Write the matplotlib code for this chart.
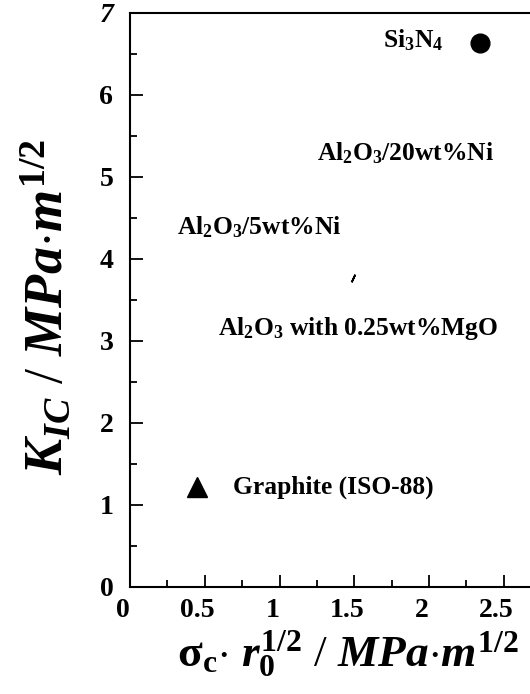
import matplotlib
matplotlib.use("Agg")
import matplotlib.pyplot as plt
import matplotlib.transforms as mtransforms
from matplotlib.ticker import MultipleLocator

plt.rcParams['font.family'] = ['Liberation Serif', 'DejaVu Serif']
plt.rcParams['font.weight'] = 'bold'
plt.rcParams['mathtext.fontset'] = 'custom'
plt.rcParams['mathtext.rm'] = 'Liberation Serif:bold'
plt.rcParams['mathtext.it'] = 'Liberation Serif:bold:italic'
plt.rcParams['mathtext.bf'] = 'Liberation Serif:bold'

# data
circle_x = [2.34]
circle_y = [6.63]
triangle_x = [0.45]
triangle_y = [1.22]
stray_x = [1.49]
stray_y = [3.76]

label_texts = [r'Si$_3$N$_4$', r'Al$_2$O$_3$/20wt%Ni', r'Al$_2$O$_3$/5wt%Ni',
               r'Al$_2$O$_3$ with 0.25wt%MgO', 'Graphite (ISO-88)']
label_x = [2.094, 1.25, 0.314, 0.589, 0.689]
label_y = [6.57, 5.20, 4.29, 3.07, 1.14]
label_ha = ['right', 'left', 'left', 'left', 'left']

xticks = [0, 0.5, 1, 1.5, 2, 2.5]
xtick_labels = ['0', '0.5', '1', '1.5', '2', '2.5']
yticks = [0, 1, 2, 3, 4, 5, 6, 7]
ytick_labels = ['0', '1', '2', '3', '4', '5', '6', '7']

fig = plt.figure(figsize=(5.30, 6.94), dpi=100)
ax = fig.add_axes([130/530, 1 - 586.7/694, 1 - 130/530, (586.7 - 12.5)/694])

ax.plot(circle_x, circle_y, 'o', color='black', markersize=13.5, clip_on=False)
ax.plot(triangle_x, triangle_y, '^', color='black', markersize=14, clip_on=False)
ax.plot(stray_x, stray_y, marker=(2, 2, -25), color='black', markersize=6,
        markeredgewidth=1.3, linestyle='none')

for t, x, y, ha in zip(label_texts, label_x, label_y, label_ha):
    ax.text(x, y, t, ha=ha, va='baseline', fontsize=18.4, fontweight='bold')

ax.set_xlim(0, (530 - 130) / 149.5)
ax.set_ylim(0, 7)
ax.set_xticks(xticks)
ax.set_xticklabels(xtick_labels)
ax.set_yticks(yticks)
ax.set_yticklabels(ytick_labels)
ax.xaxis.set_minor_locator(MultipleLocator(0.25))
ax.yaxis.set_minor_locator(MultipleLocator(0.5))

ax.spines['right'].set_visible(False)
for s in ['left', 'bottom', 'top']:
    ax.spines[s].set_linewidth(1.5)

ax.tick_params(which='major', direction='in', length=9, width=1.3,
               labelsize=20, top=False, right=False)
ax.tick_params(which='minor', direction='in', length=5, width=1.3,
               top=False, right=False)
ax.tick_params(axis='y', which='major', pad=12)
ax.tick_params(axis='x', which='major', pad=8)
shift = mtransforms.ScaledTranslation(-7/100, 0, fig.dpi_scale_trans)
for lab in ax.get_xticklabels():
    lab.set_fontweight('bold')
    lab.set_transform(lab.get_transform() + shift)
for lab in ax.get_yticklabels():
    lab.set_fontweight('bold')
ax.get_yticklabels()[-1].set_fontstyle('italic')

ax.set_ylabel(r'$\mathit{K}_{\mathit{IC}}$ / $\mathit{MPa}$$\cdot$$\mathit{m}^{\mathit{1/2}}$',
              fontsize=39)
ax.yaxis.set_label_coords(-0.1375, 0.487)
ax.set_xlabel(r'$\mathrm{σ_c}$$\cdot$ $\mathit{r}_{\mathit{0}}^{\mathrm{1/2}}$ / $\mathit{MPa}$$\cdot$$\mathit{m}^{\mathrm{1/2}}$',
              fontsize=32.7)
ax.xaxis.set_label_coords(0.545, -0.0719)

fig.savefig('out.png', dpi=100)
